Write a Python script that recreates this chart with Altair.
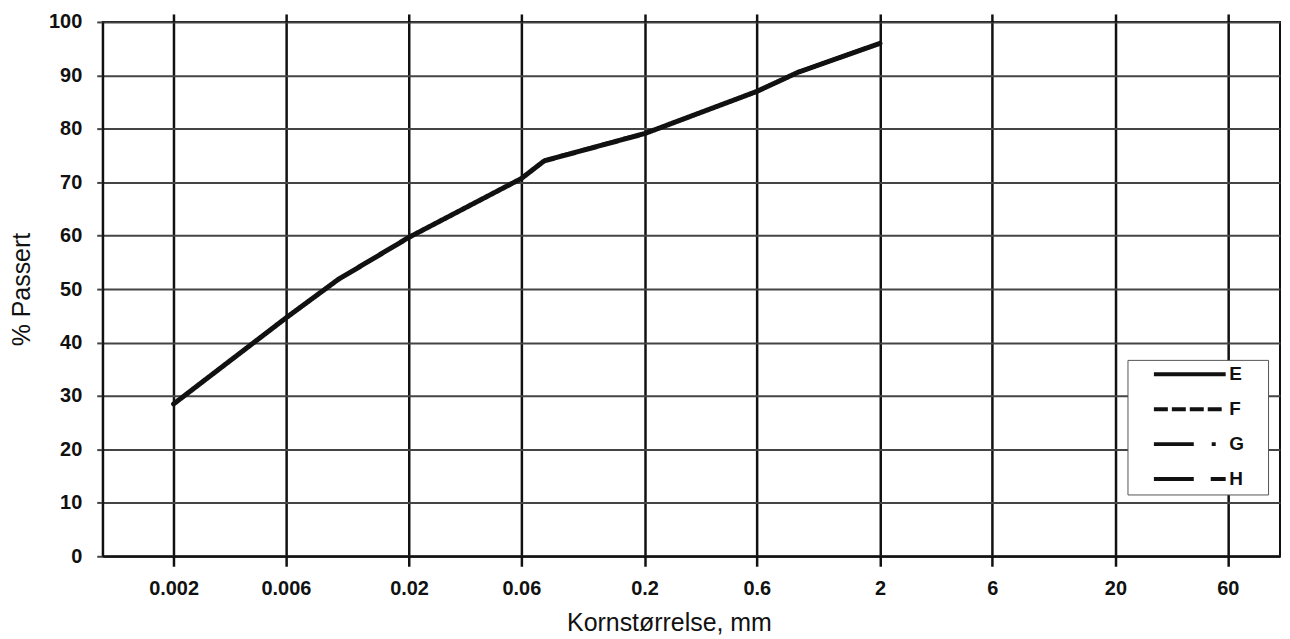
import altair as alt
import pandas as pd

# grain size (mm) and percent passing for curve E
size_mm = [0.002, 0.006, 0.01, 0.02, 0.06, 0.075, 0.2, 0.6, 0.9, 2]
passing = [28.5, 44.6, 51.8, 59.7, 70.7, 74.0, 79.1, 87.0, 90.6, 96.0]
series = ["E"] * len(size_mm)

legend_names = ["E", "F", "G", "H"]
legend_dashes = [[1, 0], [14, 4], [40, 18, 4, 18], [40, 17, 15, 17]]

x_ticks = [0.002, 0.006, 0.02, 0.06, 0.2, 0.6, 2, 6, 20, 60]
y_ticks = [0, 10, 20, 30, 40, 50, 60, 70, 80, 90, 100]

FONT = "Liberation Sans, Arial, sans-serif"

df = pd.DataFrame({"size": size_mm, "passing": passing, "series": series})

xscale = alt.Scale(type="log", domain=[0.001, 100])

line = (
    alt.Chart(df)
    .mark_line(color="#111", strokeWidth=5, strokeCap="round", strokeJoin="round")
    .encode(
        x=alt.X(
            "size:Q",
            scale=xscale,
            axis=alt.Axis(
                values=x_ticks,
                format="~g",
                title="Kornstørrelse, mm",
                titleX=568,
                titleY=74,
                titleBaseline="alphabetic",
            ),
        ),
        y=alt.Y(
            "passing:Q",
            scale=alt.Scale(domain=[0, 100]),
            axis=alt.Axis(
                values=y_ticks,
                title="% Passert",
                titleX=-81,
                titleY=268,
                titleBaseline="middle",
            ),
        ),
        strokeDash=alt.StrokeDash(
            "series:N",
            scale=alt.Scale(domain=legend_names, range=legend_dashes),
            legend=alt.Legend(
                title=None,
                orient="none",
                legendX=1028,
                legendY=339,
                symbolType="M-1,0L13.4,0M19.2,0",
                symbolSize=100,
                symbolStrokeWidth=4,
                symbolStrokeColor="#111",
                labelFont=FONT,
                labelFontWeight="bold",
                labelFontSize=19,
                labelColor="#111",
                labelOffset=61,
                padding=5,
                symbolOffset=17,
                strokeColor="#555",
                fillColor="white",
                rowPadding=15,
            ),
        ),
    )
)

top_ticks = (
    alt.Chart(df)
    .mark_point(opacity=0)
    .encode(
        x=alt.X(
            "size:Q",
            scale=xscale,
            axis=alt.Axis(
                orient="top",
                values=x_ticks,
                labels=False,
                grid=False,
                domain=False,
                title=None,
                tickSize=8,
            ),
        ),
    )
)

chart = (
    alt.layer(line, top_ticks)
    .resolve_axis(x="independent")
    .properties(
        width=1181,
        height=536,
        autosize=alt.AutoSizeParams(type="none"),
        padding={"left": 95, "top": 13, "right": 2, "bottom": 82},
    )
    .configure_view(stroke="#111", strokeWidth=2)
    .configure_axis(
        labelFont=FONT,
        labelFontSize=20,
        labelFontWeight="bold",
        labelColor="#111",
        titleFont=FONT,
        titleFontSize=25,
        titleFontWeight="normal",
        titleColor="#111",
        domainColor="#111",
        domainWidth=2,
    )
    .configure_axisX(
        gridColor="#111",
        gridWidth=2.5,
        gridOpacity=1,
        tickColor="#111",
        tickWidth=2.5,
        tickSize=10,
        labelPadding=12,
    )
    .configure_axisY(
        gridColor="#444",
        gridWidth=2,
        gridOpacity=1,
        tickColor="#444",
        tickWidth=2,
        tickSize=6,
        labelPadding=15,
    )
)

chart.save("out.html", embed_options={"renderer": "svg", "actions": False})
